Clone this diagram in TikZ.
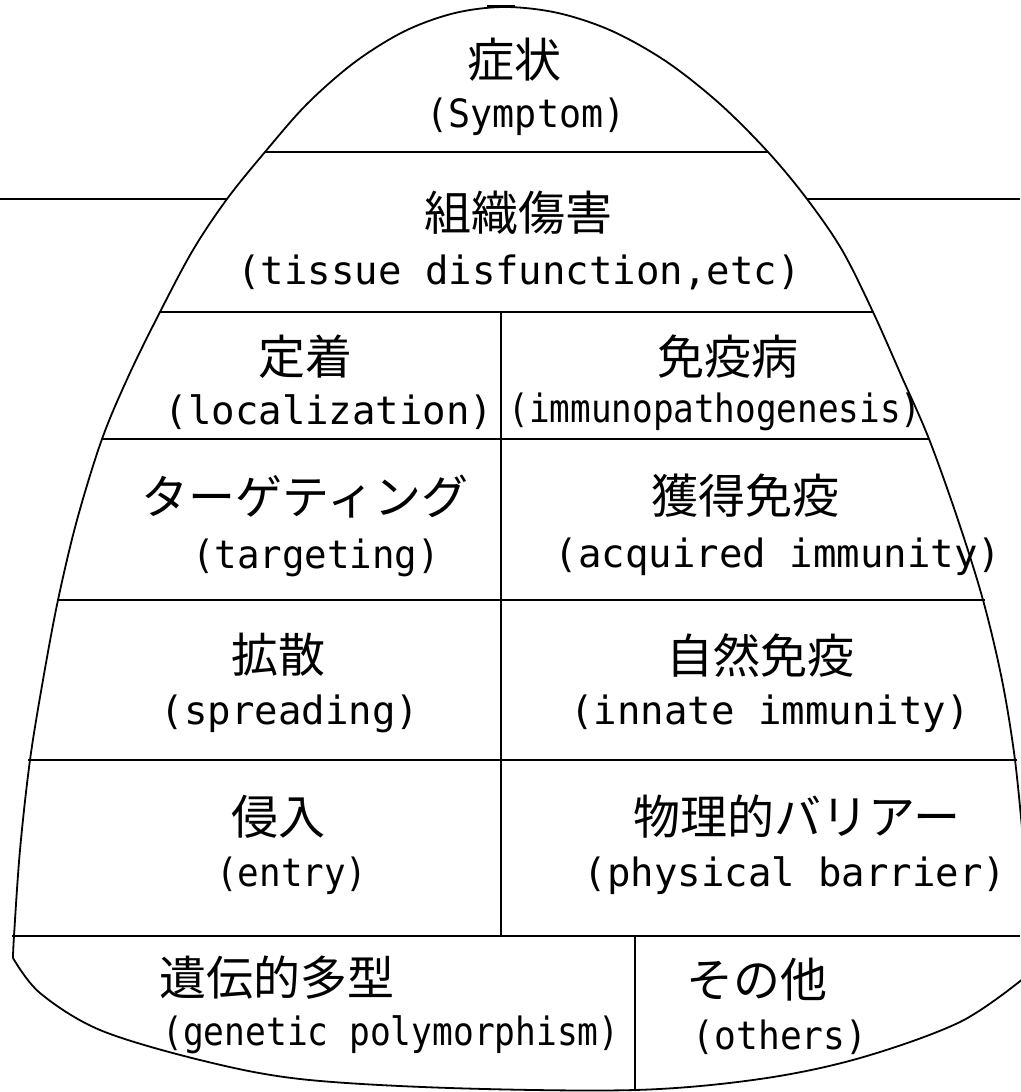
\documentclass[tikz,border=0pt]{standalone}
\usepackage{fontspec}
\usepackage{graphicx}
\newfontfamily\jpfont{Noto Sans CJK JP}
\newfontfamily\latfont{DejaVu Sans Mono}
\newcommand{\jptext}[1]{{\jpfont\fontsize{47}{52}\selectfont #1}}
\newcommand{\entext}[2][1]{\scalebox{#1}[1]{\latfont\fontsize{39}{44}\selectfont #2}}
\tikzset{
  outline/.style={line width=1.8pt, line join=round},
  rule/.style={line width=1.8pt},
  divider/.style={line width=1.3pt},
  lbl/.style={inner sep=0pt, anchor=center}
}
\begin{document}
\begin{tikzpicture}[x=1pt,y=-1pt]
\useasboundingbox (0,0) rectangle (1020,1092);
\fill[white] (0,0) rectangle (1020,1092);
% dome outline
\draw[outline] plot[smooth, tension=0.55] coordinates {
  (13,958) (14,936) (20,850) (30,760) (43,680) (58,600) (77,520) (102,439)
  (129,375) (160,312) (193,250) (227,199) (265,152) (307,104) (355,62)
  (405,31) (455,13) (505,7) (558,13) (612,31) (667,62) (720,104) (768,152)
  (807,199) (842,250) (873,312) (901,375) (929,439) (958,520) (983,600)
  (1002,680) (1015,760) (1024,850)};
% bottom arc
\draw[outline] plot[smooth, tension=0.55] coordinates {
  (13,958) (40,993) (100,1030) (200,1060) (300,1079) (450,1088) (635,1090)
  (760,1079) (860,1058) (960,1022) (1024,978)};
% top tick
\draw[line width=2.5pt] (487,6) -- (515,6);
% horizontal rules
\draw[rule] (265,152) -- (768,152);
\draw[rule] (0,199) -- (227,199);
\draw[rule] (807,199) -- (1020,199);
\draw[rule] (160,312) -- (873,312);
\draw[rule] (102,439) -- (929,439);
\draw[rule] (58,600) -- (985,600);
\draw[rule] (28,760) -- (1017,760);
\draw[rule] (12,936) -- (1020,936);
% vertical dividers
\draw[divider] (501,312) -- (501,936);
\draw[divider] (635,936) -- (635,1090);
% labels
\node[lbl] (sj) at (514,60) {\jptext{症状}};
\node[lbl] (se) at (526,117) {\entext[0.94]{(Symptom)}};
\node[lbl] (tj) at (518,213) {\jptext{組織傷害}};
\node[lbl] (te) at (519,272) {\entext{(tissue disfunction,etc)}};
\node[lbl] (lj) at (305,357) {\jptext{定着}};
\node[lbl] (le) at (329,412) {\entext{(localization)}};
\node[lbl] (ij) at (728,357) {\jptext{免疫病}};
\node[lbl] (ie) at (715,412) {\entext[0.88]{(immunopathogenesis)}};
\node[lbl] (gj) at (305,497) {\jptext{ターゲティング}};
\node[lbl] (ge) at (316,558) {\entext[0.96]{(targeting)}};
\node[lbl] (aj) at (745,496) {\jptext{獲得免疫}};
\node[lbl] (ae) at (778,557) {\entext{(acquired immunity)}};
\node[lbl] (pj) at (278,655) {\jptext{拡散}};
\node[lbl] (pe) at (290,714) {\entext{(spreading)}};
\node[lbl] (nj) at (760,655) {\jptext{自然免疫}};
\node[lbl] (ne) at (770,714) {\entext{(innate immunity)}};
\node[lbl] (ej) at (278,817) {\jptext{侵入}};
\node[lbl] (ee) at (292,876) {\entext[0.92]{(entry)}};
\node[lbl] (bj) at (797,817) {\jptext{物理的バリアー}};
\node[lbl] (be) at (795,876) {\entext{(physical barrier)}};
\node[lbl] (mj) at (277,978) {\jptext{遺伝的多型}};
\node[lbl] (me) at (391,1035) {\entext[0.885]{(genetic polymorphism)}};
\node[lbl] (oj) at (757,980) {\jptext{その他}};
\node[lbl] (oe) at (780,1037) {\entext[0.93]{(others)}};
\end{tikzpicture}
\end{document}
